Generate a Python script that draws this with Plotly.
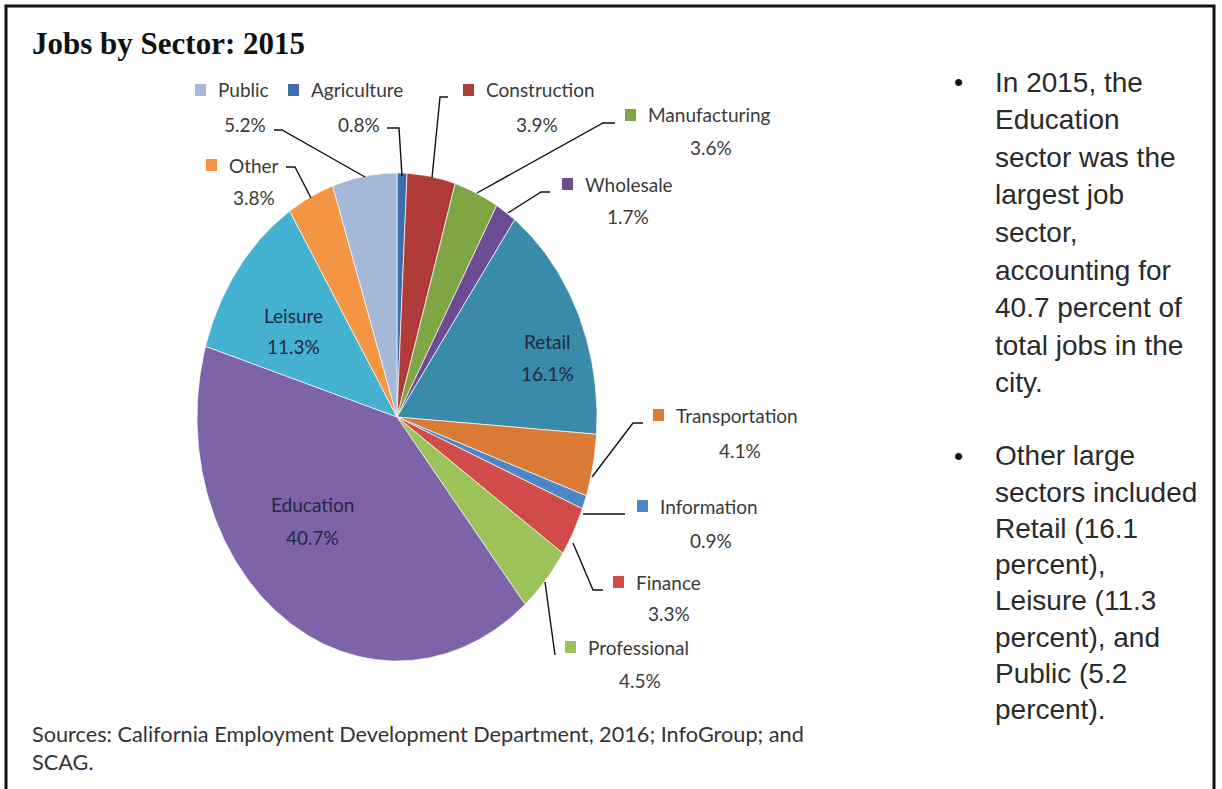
import math
import plotly.graph_objects as go

# ---------------- data ----------------
sectors = ["Agriculture", "Construction", "Manufacturing", "Wholesale", "Retail",
           "Transportation", "Information", "Finance", "Professional", "Education",
           "Leisure", "Other", "Public"]
shares = [0.8, 3.9, 3.6, 1.7, 16.1, 4.1, 0.9, 3.3, 4.5, 40.7, 11.3, 3.8, 5.2]
pct_labels = [f"{v}%" for v in shares]

title_text = "Jobs by Sector: 2015"
bullet1 = ["In 2015, the", "Education", "sector was the", "largest job", "sector,",
           "accounting for", "40.7 percent of", "total jobs in the", "city."]
bullet2 = ["Other large", "sectors included", "Retail (16.1", "percent),",
           "Leisure (11.3", "percent), and", "Public (5.2", "percent)."]
source_lines = ["Sources: California Employment Development Department, 2016; InfoGroup; and",
                "SCAG."]

# ---------------- styles ----------------
colors = {
    "Agriculture": "#3C6DAF", "Construction": "#B03C3A", "Manufacturing": "#7FA545",
    "Wholesale": "#6B4C92", "Retail": "#3A8BAA", "Transportation": "#D97B35",
    "Information": "#4D86C6", "Finance": "#D04B4A", "Professional": "#9BC35A",
    "Education": "#7F63A8", "Leisure": "#45B1D1", "Other": "#F49543", "Public": "#A5B8D8",
}

W, H = 1222, 789


def px(x):
    return x / W


def py(y):
    return 1 - y / H


# pie placement (pixels)
CX, CY, RX, RY = 397, 417, 200, 244
PAD = 1.04

# outside labels: square-left x, name y, pct centre x, pct y, leader polyline
outside = {
    "Public": dict(sq=195, ny=90, pcx=245, pcy=125, lead=[(274, 130), (282, 130), (365, 177)]),
    "Agriculture": dict(sq=288, ny=90, pcx=359, pcy=125, lead=[(387, 128), (399, 128), (402, 176)]),
    "Construction": dict(sq=463, ny=90, pcx=537, pcy=125, lead=[(448, 97), (440, 97), (432, 178)]),
    "Other": dict(sq=206, ny=165, pcx=254, pcy=197, lead=[(286, 167), (295, 167), (311, 198)]),
    "Manufacturing": dict(sq=625, ny=115, pcx=711, pcy=148, lead=[(615, 123), (603, 123), (477, 193)]),
    "Wholesale": dict(sq=562, ny=184, pcx=628, pcy=217, lead=[(550, 192), (541, 192), (508, 213)]),
    "Transportation": dict(sq=653, ny=415, pcx=740, pcy=450, lead=[(643, 423), (633, 423), (592, 477)]),
    "Information": dict(sq=637, ny=506, pcx=711, pcy=540, lead=[(583, 514), (625, 514)]),
    "Finance": dict(sq=613, ny=582, pcx=669, pcy=613, lead=[(573, 543), (593, 590), (603, 590)]),
    "Professional": dict(sq=565, ny=647, pcx=640, pcy=680, lead=[(545, 582), (555, 655)]),
}
inside = {
    "Leisure": dict(cx=293, ny=315, py=347),
    "Retail": dict(cx=547, ny=342, py=373),
    "Education": dict(cx=312, ny=505, py=537),
}

LABEL_FONT = dict(family="Lato, Carlito, sans-serif", size=19, color="#3a3a3a")
INNER_FONT = dict(family="Lato, Carlito, sans-serif", size=19, color="#22283f")

fig = go.Figure()

# ---------------- pie slices (clockwise from 12 o'clock) ----------------
total = sum(shares)
cum = 0.0
for name, v in zip(sectors, shares):
    a0 = cum / total * 2 * math.pi
    cum += v
    a1 = cum / total * 2 * math.pi
    n = max(4, int(v * 5))
    th = [a0 + (a1 - a0) * i / n for i in range(n + 1)]
    xs = [0.0] + [math.sin(t) for t in th] + [0.0]
    ys = [0.0] + [math.cos(t) for t in th] + [0.0]
    fig.add_trace(go.Scatter(
        x=xs, y=ys, mode="lines", fill="toself", fillcolor=colors[name],
        line=dict(color="rgba(255,255,255,0.85)", width=0.8),
        name=name, text=f"{name}: {v}%", hoveron="fills", hoverinfo="text",
        showlegend=False,
    ))

annotations = []
shapes = []

# title
annotations.append(dict(text=f"<b>{title_text}</b>", x=px(30), y=py(43), xref="paper", yref="paper",
                        xanchor="left", yanchor="middle", showarrow=False,
                        font=dict(family="Liberation Serif, serif", size=31, color="#111111")))

# outside labels
for name, v, lab in zip(sectors, shares, pct_labels):
    if name in outside:
        o = outside[name]
        shapes.append(dict(type="rect", xref="paper", yref="paper",
                           x0=px(o["sq"]), x1=px(o["sq"] + 11),
                           y0=py(o["ny"] + 6), y1=py(o["ny"] - 6),
                           fillcolor=colors[name], line=dict(width=0)))
        annotations.append(dict(text=name, x=px(o["sq"] + 21), y=py(o["ny"]), xref="paper", yref="paper",
                                xanchor="left", yanchor="middle", showarrow=False, font=LABEL_FONT))
        annotations.append(dict(text=lab, x=px(o["pcx"]), y=py(o["pcy"]), xref="paper", yref="paper",
                                xanchor="center", yanchor="middle", showarrow=False, font=LABEL_FONT))
        pts = o["lead"]
        path = "M " + " L ".join(f"{px(a):.5f},{py(b):.5f}" for a, b in pts)
        shapes.append(dict(type="path", xref="paper", yref="paper", path=path,
                           line=dict(color="#111111", width=1.4)))
    elif name in inside:
        o = inside[name]
        annotations.append(dict(text=name, x=px(o["cx"]), y=py(o["ny"]), xref="paper", yref="paper",
                                xanchor="center", yanchor="middle", showarrow=False, font=INNER_FONT))
        annotations.append(dict(text=lab, x=px(o["cx"]), y=py(o["py"]), xref="paper", yref="paper",
                                xanchor="center", yanchor="middle", showarrow=False, font=INNER_FONT))

# right-hand bullet text
RFONT = dict(family="Liberation Sans, Arial, sans-serif", size=28, color="#2a2a2a")
for i, line in enumerate(bullet1):
    annotations.append(dict(text=line, x=px(993), y=py(82 + i * 37.6), xref="paper", yref="paper",
                            xanchor="left", yanchor="middle", showarrow=False, font=RFONT))
for i, line in enumerate(bullet2):
    annotations.append(dict(text=line, x=px(993), y=py(456 + i * 36.2), xref="paper", yref="paper",
                            xanchor="left", yanchor="middle", showarrow=False, font=RFONT))
for yy in (82, 456):
    annotations.append(dict(text="•", x=px(958), y=py(yy), xref="paper", yref="paper",
                            xanchor="center", yanchor="middle", showarrow=False,
                            font=dict(family="Liberation Sans, Arial, sans-serif", size=26, color="#111111")))

# sources (one two-line text block)
SFONT = dict(family="Lato, Carlito, sans-serif", size=21.7, color="#333333")
annotations.append(dict(text="<br>".join(source_lines), x=px(30), y=py(748), xref="paper", yref="paper",
                        xanchor="left", yanchor="middle", align="left", showarrow=False, font=SFONT))

# outer frame
shapes.append(dict(type="rect", xref="paper", yref="paper", x0=px(6), x1=px(1214),
                   y0=-0.05, y1=py(6), line=dict(color="#111111", width=3),
                   fillcolor="rgba(0,0,0,0)", layer="above"))

fig.update_layout(
    width=W, height=H,
    margin=dict(l=0, r=0, t=0, b=0),
    paper_bgcolor="white", plot_bgcolor="rgba(0,0,0,0)",
    xaxis=dict(range=[-PAD, PAD], domain=[px(CX - RX * PAD), px(CX + RX * PAD)],
               visible=False, fixedrange=True),
    yaxis=dict(range=[-PAD, PAD], domain=[py(CY + RY * PAD), py(CY - RY * PAD)],
               visible=False, fixedrange=True),
    annotations=annotations, shapes=shapes,
    hovermode="closest",
)

fig.write_html("out.html", config={"displayModeBar": False},
               post_script="document.body.style.margin='0';document.body.style.overflow='hidden';")
